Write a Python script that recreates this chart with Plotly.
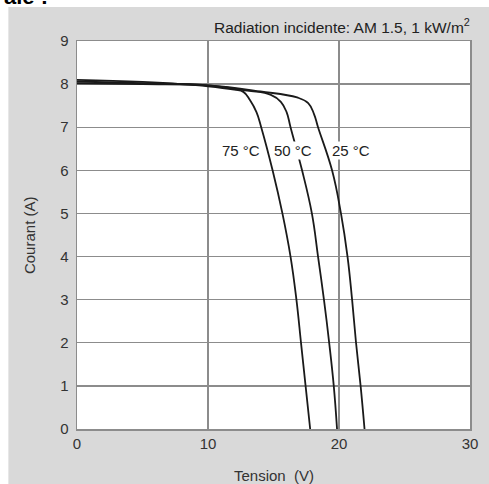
import plotly.graph_objects as go

# Data (voltage V, current A)
v_75 = [0, 5, 10, 12.0, 12.7, 13.2, 13.7, 14.06, 14.93, 15.68, 16.3, 16.75, 17.1, 17.45, 17.8]
i_75 = [8.10, 8.05, 7.95, 7.87, 7.82, 7.63, 7.35, 7.0, 6.0, 5.0, 4.0, 3.0, 2.0, 1.0, 0.0]

v_50 = [0, 5, 10, 13.0, 14.8, 15.56, 16.0, 16.3, 17.18, 17.93, 18.4, 18.85, 19.25, 19.6, 19.85]
i_50 = [8.06, 8.02, 7.97, 7.85, 7.75, 7.59, 7.35, 7.0, 6.0, 5.0, 4.0, 3.0, 2.0, 1.0, 0.0]

v_25 = [0, 5, 10, 14.0, 16.8, 17.65, 18.1, 18.4, 19.47, 20.15, 20.65, 21.0, 21.3, 21.65, 21.95]
i_25 = [8.02, 8.0, 7.97, 7.83, 7.69, 7.56, 7.3, 7.0, 6.0, 5.0, 4.0, 3.0, 2.0, 1.0, 0.0]

labels = ["75 °C", "50 °C", "25 °C"]
label_x = [12.5, 16.5, 20.9]
label_y = [6.47, 6.47, 6.47]

x_ticks = [0, 10, 20, 30]
y_ticks = [0, 1, 2, 3, 4, 5, 6, 7, 8, 9]

FONT = "Liberation Sans, Arial, sans-serif"
GRID = "#8c8c8c"
BG = "#d9d9d9"

fig = go.Figure()
for vx, iy in [(v_75, i_75), (v_50, i_50), (v_25, i_25)]:
    fig.add_trace(go.Scatter(x=vx, y=iy, mode="lines",
                             line=dict(color="#1a1a1a", width=1.8, shape="spline", smoothing=1.2),
                             showlegend=False, hoverinfo="skip"))

annotations = [
    dict(text="Radiation incidente: AM 1.5, 1 kW/m<sup>2</sup>", xref="paper", yref="paper",
         x=1.006, y=1.008, xanchor="right", yanchor="bottom", showarrow=False,
         font=dict(family=FONT, size=15.5, color="#222")),
    dict(text="Courant (A)", xref="paper", yref="paper", x=-0.122, y=0.5,
         textangle=-90, xanchor="center", yanchor="middle", showarrow=False,
         font=dict(family=FONT, size=15, color="#333")),
    dict(text="Tension  (V)", xref="paper", yref="paper", x=0.5, y=-0.121,
         xanchor="center", yanchor="middle", showarrow=False,
         font=dict(family=FONT, size=15, color="#333")),
    dict(text="<b>ale :</b>", xref="paper", yref="paper", x=-0.192, y=1.115,
         xanchor="left", yanchor="middle", showarrow=False,
         font=dict(family=FONT, size=22, color="black")),
]
for t, lx, ly in zip(labels, label_x, label_y):
    annotations.append(dict(text=t, x=lx, y=ly, xref="x", yref="y", showarrow=False,
                            xanchor="center", yanchor="middle", bgcolor="white", borderpad=0,
                            font=dict(family=FONT, size=15, color="#222")))

fig.update_layout(
    width=489, height=484,
    margin=dict(l=77, r=11, t=41, b=55),
    paper_bgcolor=BG, plot_bgcolor="white",
    font=dict(family=FONT, size=15, color="#333"),
    xaxis=dict(range=[0, 30], tickvals=x_ticks, showgrid=True, gridcolor=GRID, gridwidth=1.3,
               zeroline=False, showline=True, linecolor=GRID, linewidth=1.5, mirror=True,
               ticks="", tickfont=dict(size=15, color="#333"), fixedrange=True),
    yaxis=dict(range=[0, 9], tickvals=y_ticks, showgrid=True, gridcolor=GRID, gridwidth=1.3,
               zeroline=False, showline=True, linecolor=GRID, linewidth=1.5, mirror=True,
               ticks="", tickfont=dict(size=15, color="#333"), ticklabelstandoff=4,
               fixedrange=True),
    shapes=[
        dict(type="rect", xref="paper", yref="paper", x0=-0.2, x1=1.1, y0=1.0876, y1=1.2,
             fillcolor="white", line=dict(width=0), layer="below"),
        dict(type="rect", xref="paper", yref="paper", x0=-0.2, x1=-0.1746, y0=-0.2, y1=1.2,
             fillcolor="white", line=dict(width=0), layer="below"),
    ],
    annotations=annotations,
)

fig.write_html("out.html", config={"displayModeBar": False, "staticPlot": True},
               post_script="document.body.style.margin='0';document.body.style.overflow='hidden';")
